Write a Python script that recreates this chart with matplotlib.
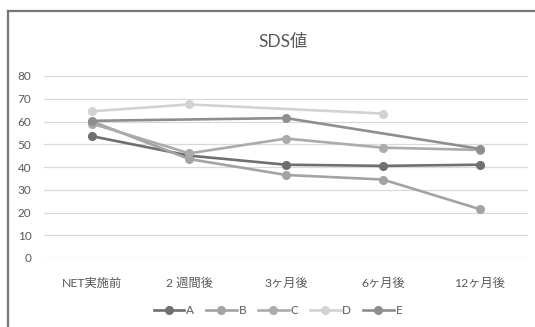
import numpy as np
import matplotlib.pyplot as plt
from matplotlib.lines import Line2D

plt.rcParams['font.family'] = ['Lato', 'Noto Sans CJK JP', 'DejaVu Sans']

categories = ["NET実施前", "2 週間後", "3ヶ月後", "6ヶ月後", "12ヶ月後"]
series_names = ["A", "B", "C", "D", "E"]
series_a = [53.5, 45.0, 41.0, 40.5, 41.0]
series_b = [60.0, 43.5, 36.5, 34.5, 21.5]
series_c = [59.0, 46.0, 52.5, 48.5, 47.5]
series_d = [64.5, 67.5, np.nan, 63.5, np.nan]
series_e = [60.3, np.nan, 61.5, np.nan, 48.0]
yticks = [0, 10, 20, 30, 40, 50, 60, 70, 80]

colors = ["#6f6f6f", "#a3a3a3", "#ababab", "#d2d2d2", "#8e8e8e"]

W, H = 535, 327
fig = plt.figure(figsize=(W / 100, H / 100), dpi=100)
fig.patch.set_facecolor("white")

# frame lines along the top and left edge
fig.add_artist(Line2D([8 / W, 1], [1 - 11 / H, 1 - 11 / H], color="#7a7575", lw=1.6))
fig.add_artist(Line2D([8 / W, 8 / W], [0, 1 - 11 / H], color="#7a7575", lw=1.6))

ax = fig.add_axes([44 / W, 1 - 258 / H, (528 - 44) / W, (258 - 76) / H])
ax.set_xlim(-0.5, len(categories) - 0.5)
ax.set_ylim(0, 80)
ax.set_yticks(yticks)
ax.grid(axis="y", color="#d9d9d9", lw=0.9)
ax.set_axisbelow(True)
for s in ax.spines.values():
    s.set_visible(False)
ax.tick_params(length=0, colors="#595959")
ax.tick_params(axis="y", pad=9, labelsize=8.5)
ax.tick_params(axis="x", pad=14, labelsize=8.8)
ax.set_xticks(range(len(categories)))
ax.set_xticklabels(categories)

x = np.arange(len(categories))
handles = []
for name, vals, c in zip(series_names,
                         [series_a, series_b, series_c, series_d, series_e],
                         colors):
    v = np.array(vals, dtype=float)
    m = np.isfinite(v)
    ln, = ax.plot(x[m], v[m], color=c, lw=1.9, marker="o", ms=5.5,
                  markeredgecolor=c, label=name, clip_on=False)
    handles.append(ln)

fig.text(283 / W, 1 - 42 / H, "SDS値", ha="center", va="center",
         fontsize=12.5, color="#595959")

fig.legend(handles=handles, loc="center", bbox_to_anchor=(278 / W, 1 - 311 / H),
           ncol=5, frameon=False, fontsize=8.5, handlelength=2.6,
           handletextpad=0.15, columnspacing=1.0, labelcolor="#595959")

fig.savefig("out.png", dpi=100)
